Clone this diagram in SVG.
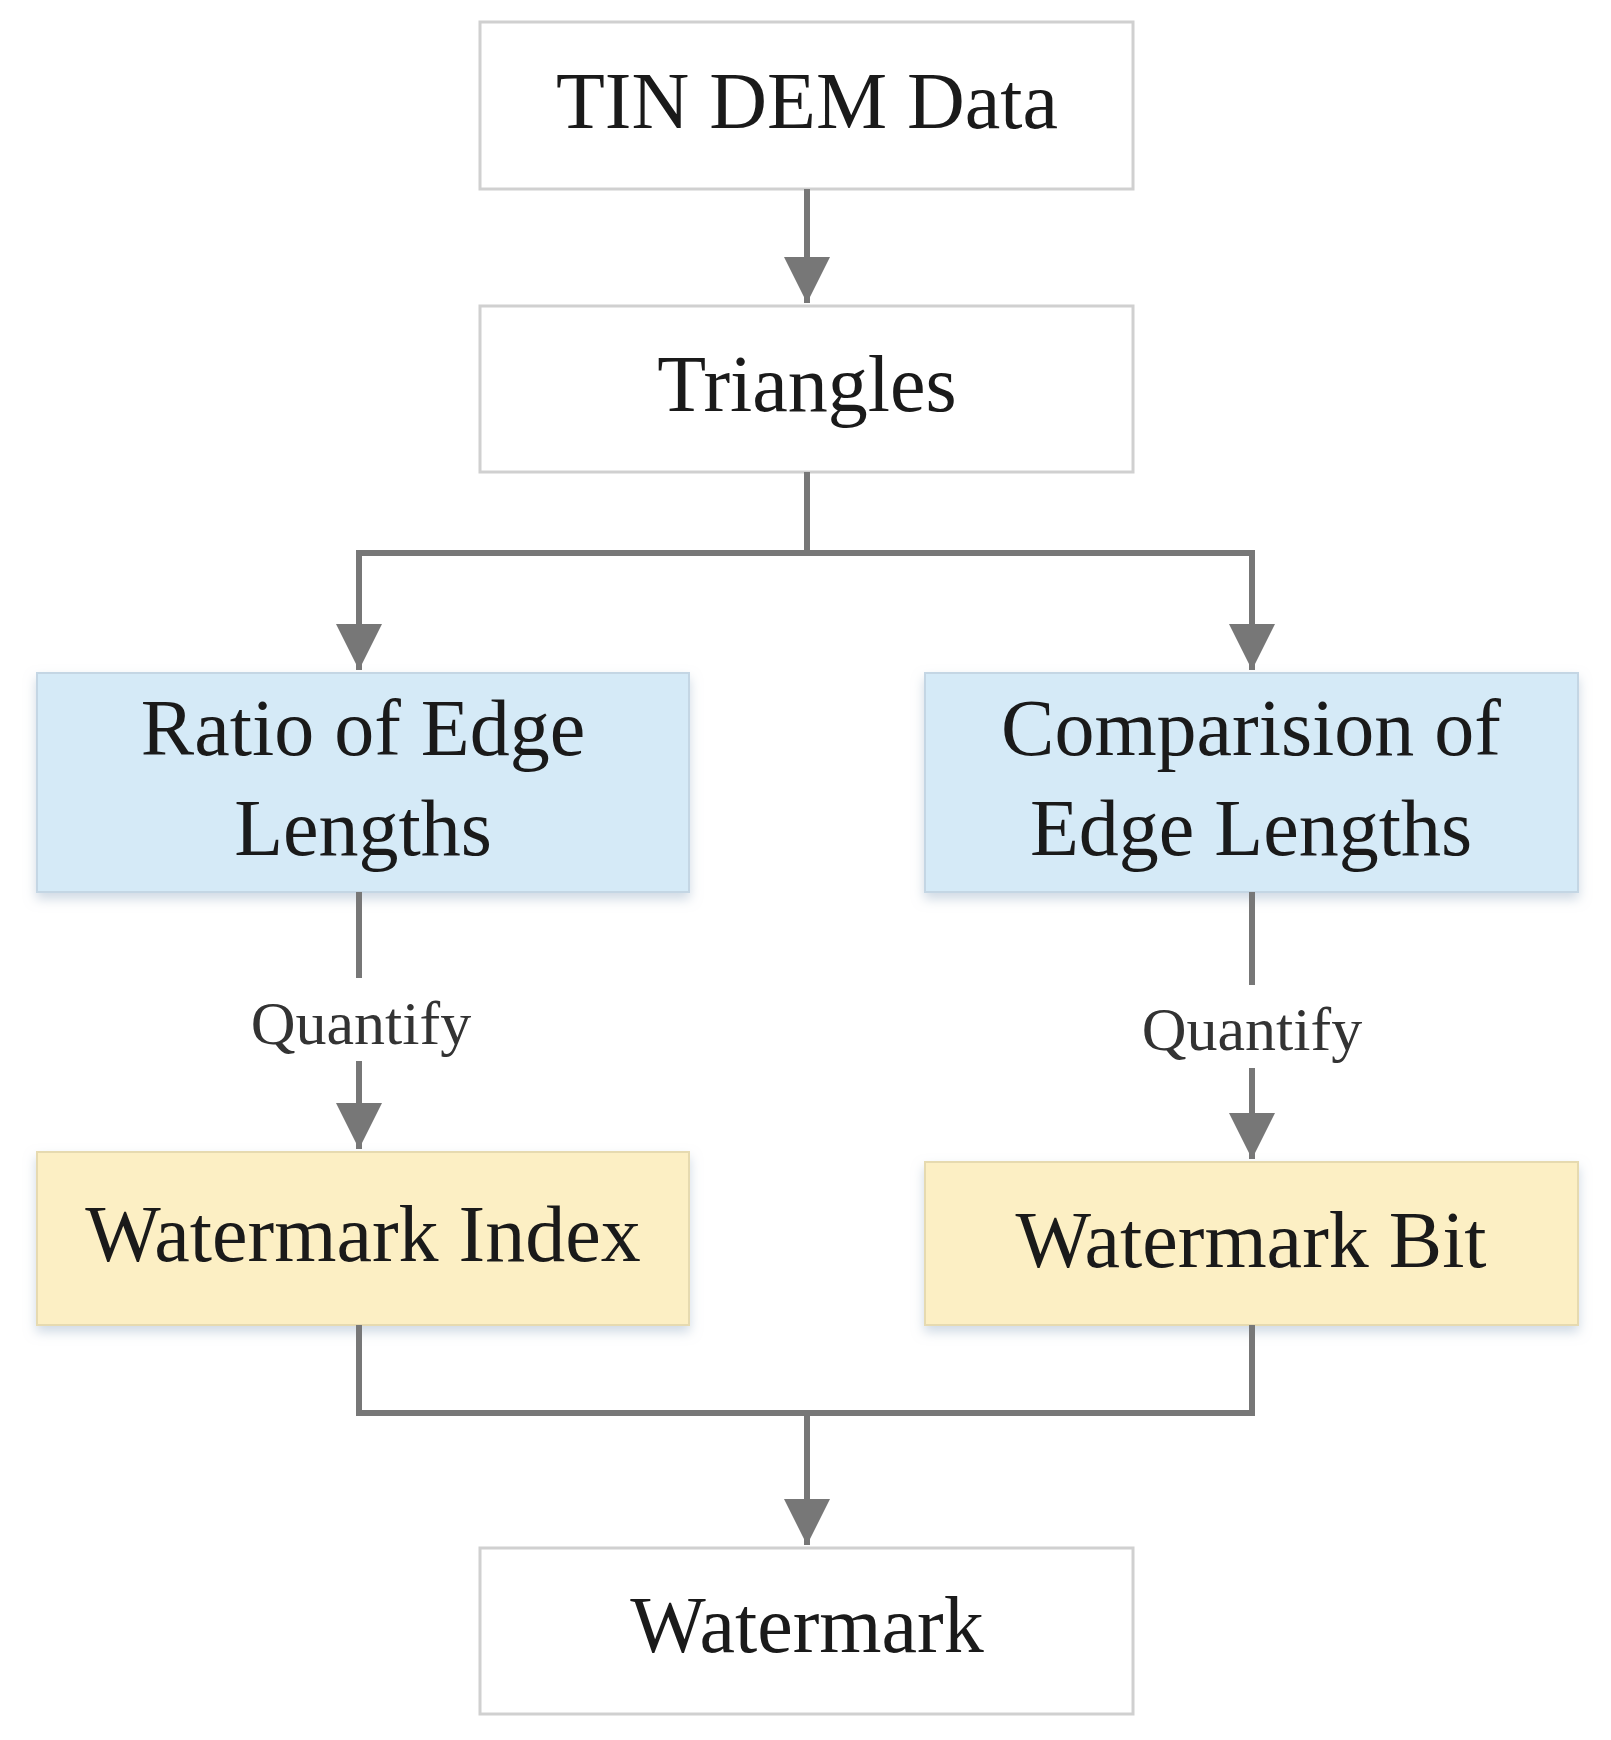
<svg xmlns="http://www.w3.org/2000/svg" width="1611" height="1740" viewBox="0 0 1611 1740">
<style>
.w{fill:#fff;stroke:#d0d0d0;stroke-width:3}
.b{fill:#d5eaf7;stroke:#c4d6e4;stroke-width:2}
.y{fill:#fcefc4;stroke:#e6dab0;stroke-width:2}
text{font-family:"Liberation Serif",serif;fill:#1a1a1a;text-anchor:middle;font-size:80px}
.q{font-size:62px;fill:#333}
.c{fill:none;stroke:#777;stroke-width:6}
</style>
<defs>
<marker id="a" markerUnits="userSpaceOnUse" markerWidth="46" markerHeight="50" refX="46" refY="23" orient="auto" viewBox="0 0 46 46"><path d="M0,0 L46,23 L0,46 Z" fill="#777"/></marker>
<filter id="s" x="-10%" y="-10%" width="120%" height="130%"><feDropShadow dx="0" dy="6" stdDeviation="6" flood-color="#9fb4c8" flood-opacity="0.5"/></filter>
</defs>
<g id="n1"><rect class="w" x="480" y="22" width="653" height="167"/><text x="807" y="128">TIN DEM Data</text></g>
<g id="n2"><rect class="w" x="480" y="306" width="653" height="166"/><text x="807" y="411">Triangles</text></g>
<g id="n3"><rect class="b" x="37" y="673" width="652" height="219" filter="url(#s)"/><text x="363" y="755">Ratio of Edge</text><text x="363" y="855">Lengths</text></g>
<g id="n4"><rect class="b" x="925" y="673" width="653" height="219" filter="url(#s)"/><text x="1251" y="755">Comparision of</text><text x="1251" y="855">Edge Lengths</text></g>
<g id="n5"><rect class="y" x="37" y="1152" width="652" height="173" filter="url(#s)"/><text x="363" y="1261">Watermark Index</text></g>
<g id="n6"><rect class="y" x="925" y="1162" width="653" height="163" filter="url(#s)"/><text x="1251" y="1267">Watermark Bit</text></g>
<g id="n7"><rect class="w" x="480" y="1548" width="653" height="166"/><text x="807" y="1652">Watermark</text></g>
<g id="connectors">
<path class="c" d="M807,189 V303" marker-end="url(#a)"/>
<path class="c" d="M807,472 V553 H359 V670" marker-end="url(#a)"/>
<path class="c" d="M807,553 H1252 V670" marker-end="url(#a)"/>
<path class="c" d="M359,892 V978"/>
<path class="c" d="M359,1061 V1149" marker-end="url(#a)"/>
<path class="c" d="M1252,892 V985"/>
<path class="c" d="M1252,1068 V1159" marker-end="url(#a)"/>
<path class="c" d="M359,1325 V1413 H1252 V1325"/>
<path class="c" d="M807,1413 V1545" marker-end="url(#a)"/>
<text class="q" x="361" y="1044">Quantify</text>
<text class="q" x="1252" y="1050">Quantify</text>
</g>
</svg>
